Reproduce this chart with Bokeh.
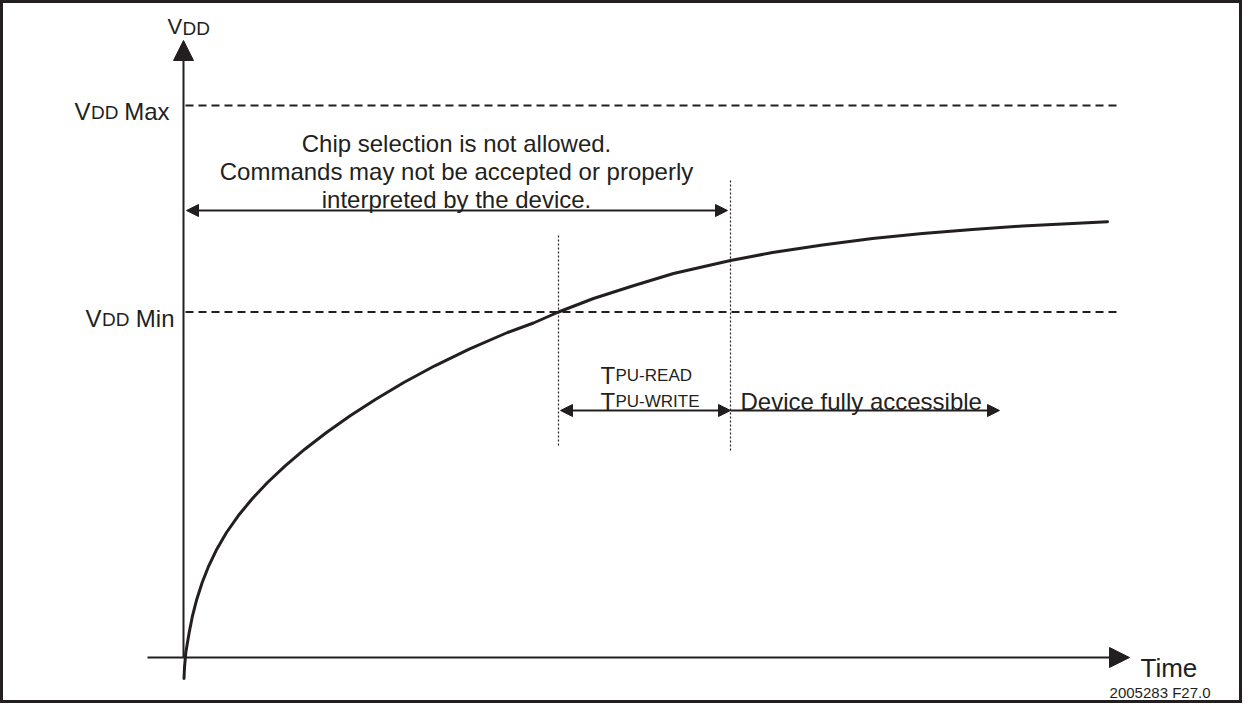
from bokeh.plotting import figure
from bokeh.models import Range1d, Arrow, NormalHead, Label
from bokeh.embed import file_html
from bokeh.resources import INLINE

# ---------------- data (diagram units: time → right, VDD → up) ----------------
curve_t = [0.5, 1, 2.3, 5.7, 9, 13.3, 18.7, 25.3, 33.3, 43, 54.7, 68.3, 84, 101.7,
           121.3, 143, 166.7, 192.3, 220.3, 251.3, 285.7, 324, 350, 375, 410, 449,
           490, 547, 589, 639, 689, 739, 789, 839, 889, 924]
curve_v = [-21, -10, 5, 25, 41.7, 58.3, 75, 91.7, 108.3, 125, 141.7, 158.3, 175,
           191.7, 208.3, 225, 241.7, 258.3, 275, 291.7, 308.3, 325, 334.5, 345.5,
           359, 371.5, 384, 397, 405, 412.5, 419, 424, 428, 431.5, 434, 435.7]
level_names = ["Max", "Min"]
level_values = [552, 345.5]
t_vdd_min = 375        # VDD crosses VDD Min
t_ready = 547          # end of TPU-READ / TPU-WRITE
t_access_end = 816     # end of "Device fully accessible" arrow
t_level_end = 937
t_axis_end = 946
v_axis_end = 617
t_axis_start = -36

chip_lines = ["Chip selection is not allowed.",
              "Commands may not be accepted or properly",
              "interpreted by the device."]

FONT = "Liberation Sans"
INK = "#231f20"

p = figure(width=1242, height=703, x_range=Range1d(-183, 1059), y_range=Range1d(-46, 657),
           output_backend="svg", toolbar_location=None, x_axis_type=None, y_axis_type=None,
           min_border=0)
p.grid.visible = False
p.outline_line_color = INK
p.outline_line_width = 5
p.background_fill_color = "white"
p.border_fill_color = "white"

# level lines (dashed)
p.segment(x0=[2] * len(level_values), y0=level_values, x1=[t_level_end] * len(level_values),
          y1=level_values, line_dash="8 5", line_width=2, line_color=INK)

# dotted verticals
p.segment(x0=[t_vdd_min, t_ready], y0=[212, 207], x1=[t_vdd_min, t_ready], y1=[422, 478],
          line_dash="2 2", line_width=1.2, line_color=INK)

# curve
p.line(curve_t, curve_v, line_width=3, line_color=INK, line_cap="round", line_join="round")

# axes
p.add_layout(Arrow(x_start=0, y_start=0, x_end=0, y_end=v_axis_end, line_width=2, line_color=INK,
                   end=NormalHead(size=20, fill_color=INK, line_color=INK, line_width=1)))
p.add_layout(Arrow(x_start=t_axis_start, y_start=0, x_end=t_axis_end, y_end=0, line_width=2,
                   line_color=INK,
                   end=NormalHead(size=20, fill_color=INK, line_color=INK, line_width=1)))

def head():
    return NormalHead(size=12, fill_color=INK, line_color=INK, line_width=1)

# "not allowed" double arrow
v_big = 447
p.add_layout(Arrow(x_start=3, y_start=v_big, x_end=t_ready - 3, y_end=v_big, line_width=2,
                   line_color=INK, start=head(), end=head()))
# TPU double arrow
v_tpu = 247
p.add_layout(Arrow(x_start=t_vdd_min + 2, y_start=v_tpu, x_end=t_ready, y_end=v_tpu,
                   line_width=2, line_color=INK, start=head(), end=head()))
# Device fully accessible arrow
p.add_layout(Arrow(x_start=t_ready, y_start=v_tpu, x_end=t_access_end, y_end=v_tpu,
                   line_width=2, line_color=INK, end=head()))

def lab(x, y, text, size, align="left"):
    p.add_layout(Label(x=x, y=y, text=text, text_font=FONT, text_font_size=size,
                       text_color=INK, text_baseline="alphabetic", text_align=align))

# axis labels
lab(-16, 631, "V", "22px")
lab(-1, 629, "DD", "19px")
lab(957, -10, "Time", "26px")
lab(1027, -35, "2005283 F27.0", "15px", "right")

# level labels
for name, val in zip(level_names, level_values):
    right = -14 if name == "Max" else -9
    lab(right, val - 6, name, "24px", "right")
    name_w = 45 if name == "Max" else 39
    lab(right - name_w - 6, val - 7, "DD", "19px", "right")
    lab(right - name_w - 6 - 28, val - 6, "V", "24px", "right")

# chip selection text
for i, line in enumerate(chip_lines):
    lab(273, 514 - i * 28, line, "24px", "center")

# TPU labels
lab(417, 282.3, "T", "24px")
lab(432, 282.3, "PU-READ", "17px")
lab(417, 255.7, "T", "24px")
lab(432, 255.7, "PU-WRITE", "17px")

lab(557, 255.7, "Device fully accessible", "24px")

open("out.html", "w").write(file_html(p, INLINE))
